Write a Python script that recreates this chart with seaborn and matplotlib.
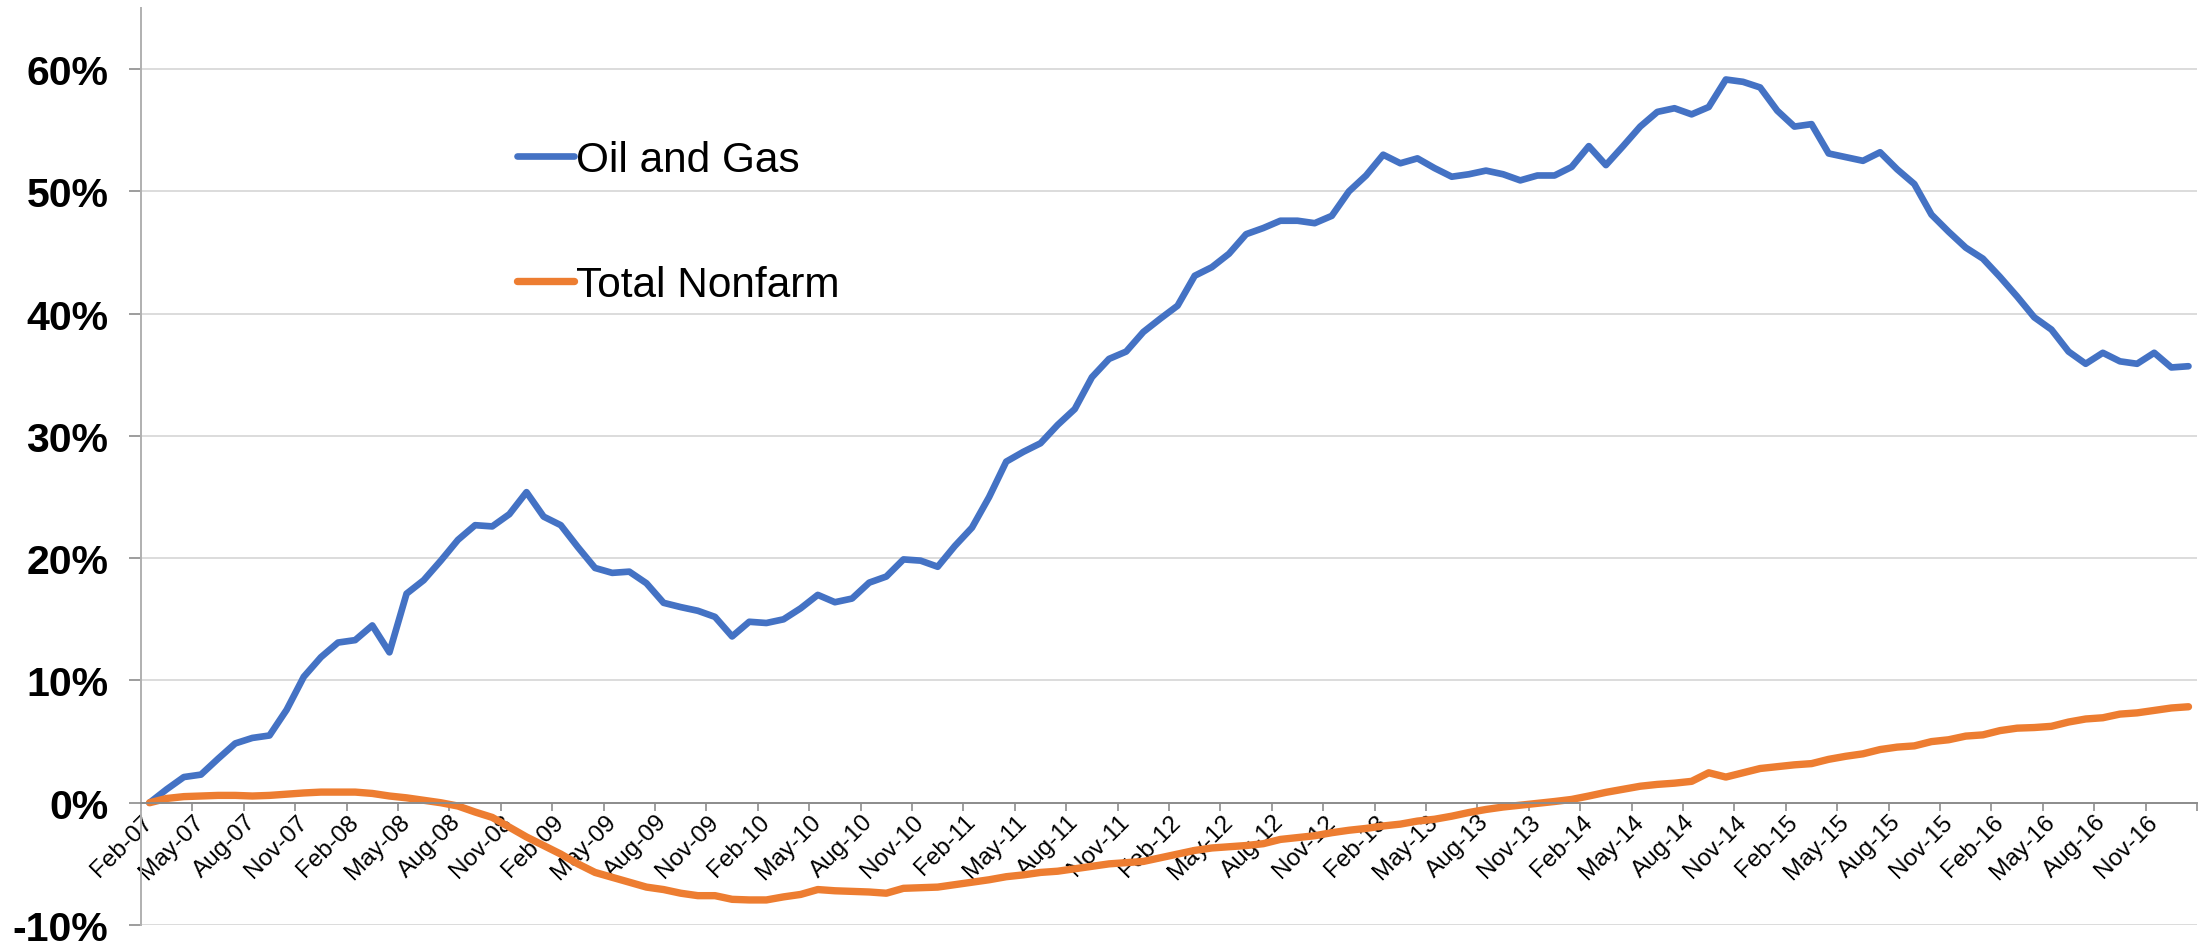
import numpy as np
import pandas as pd
import matplotlib
matplotlib.use("Agg")
import matplotlib.pyplot as plt
import seaborn as sns

# ---- data (percent change since Feb-07), monthly Feb-07 .. Jan-17 ----
months = pd.date_range("2007-02-01", periods=120, freq="MS").strftime("%b-%y").tolist()

oil_and_gas = [
    0.0, 1.1, 2.1, 2.3, 3.6, 4.85, 5.3, 5.5, 7.6, 10.3,
    11.9, 13.1, 13.3, 14.5, 12.3, 17.1, 18.2, 19.8, 21.5, 22.7,
    22.6, 23.6, 25.4, 23.4, 22.7, 20.9, 19.2, 18.8, 18.9, 17.95,
    16.35, 16.0, 15.7, 15.2, 13.6, 14.8, 14.7, 15.0, 15.9, 17.0,
    16.4, 16.7, 18.0, 18.5, 19.9, 19.8, 19.3, 21.0, 22.5, 25.0,
    27.9, 28.7, 29.4, 30.9, 32.2, 34.8, 36.3, 36.9, 38.5, 39.6,
    40.65, 43.1, 43.8, 44.9, 46.5, 47.0, 47.6, 47.6, 47.4, 48.0,
    50.0, 51.3, 53.0, 52.3, 52.7, 51.9, 51.2, 51.4, 51.7, 51.4,
    50.9, 51.3, 51.3, 52.0, 53.7, 52.15, 53.7, 55.3, 56.5, 56.8,
    56.3, 56.9, 59.15, 58.96, 58.5, 56.6, 55.3, 55.5, 53.1, 52.8,
    52.5, 53.2, 51.8, 50.6, 48.1, 46.7, 45.4, 44.5, 43.0, 41.4,
    39.7, 38.7, 36.9, 35.9, 36.8, 36.1, 35.9, 36.8, 35.6, 35.7,
]

total_nonfarm = [
    0.0, 0.35, 0.5, 0.55, 0.6, 0.6, 0.55, 0.6, 0.7, 0.8,
    0.87, 0.87, 0.87, 0.76, 0.55, 0.4, 0.2, 0.0, -0.27, -0.76,
    -1.2, -2.0, -2.8, -3.5, -4.2, -5.0, -5.7, -6.1, -6.5, -6.9,
    -7.1, -7.4, -7.6, -7.6, -7.9, -7.95, -7.95, -7.7, -7.5, -7.1,
    -7.2, -7.25, -7.3, -7.4, -7.0, -6.95, -6.9, -6.7, -6.5, -6.3,
    -6.05, -5.9, -5.7, -5.6, -5.4, -5.2, -5.0, -4.9, -4.8, -4.5,
    -4.2, -3.9, -3.7, -3.6, -3.5, -3.35, -3.0, -2.85, -2.7, -2.45,
    -2.25, -2.1, -1.9, -1.75, -1.5, -1.35, -1.1, -0.8, -0.55, -0.35,
    -0.2, -0.05, 0.1, 0.27, 0.55, 0.85, 1.1, 1.35, 1.5, 1.6,
    1.75, 2.45, 2.1, 2.45, 2.8, 2.95, 3.1, 3.2, 3.55, 3.8,
    4.0, 4.35, 4.55, 4.65, 5.0, 5.15, 5.45, 5.55, 5.9, 6.1,
    6.15, 6.25, 6.6, 6.85, 6.95, 7.25, 7.35, 7.55, 7.75, 7.85,
]

tick_labels = [
    "Feb-07", "May-07", "Aug-07", "Nov-07", "Feb-08", "May-08", "Aug-08", "Nov-08",
    "Feb-09", "May-09", "Aug-09", "Nov-09", "Feb-10", "May-10", "Aug-10", "Nov-10",
    "Feb-11", "May-11", "Aug-11", "Nov-11", "Feb-12", "May-12", "Aug-12", "Nov-12",
    "Feb-13", "May-13", "Aug-13", "Nov-13", "Feb-14", "May-14", "Aug-14", "Nov-14",
    "Feb-15", "May-15", "Aug-15", "Nov-15", "Feb-16", "May-16", "Aug-16", "Nov-16",
]
y_ticks = [-10, 0, 10, 20, 30, 40, 50, 60]

# ---- styling ----
sns.set_theme(style="white")
plt.rcParams["font.family"] = ["Liberation Sans", "DejaVu Sans"]
plt.rcParams["text.color"] = "black"
plt.rcParams["xtick.labelcolor"] = "black"
plt.rcParams["ytick.labelcolor"] = "black"

BLUE = "#4472C4"
ORANGE = "#ED7D31"
AXIS_GRAY = "#8c8c8c"
GRID_GRAY = "#d9d9d9"

fig = plt.figure(figsize=(22.03, 9.45), dpi=100)
ax = fig.add_axes([0.064, 0.0201, 0.9333, 0.9704])

df = pd.DataFrame({
    "pos": np.arange(len(months)) + 0.5,
    "month": months,
    "Oil and Gas": oil_and_gas,
    "Total Nonfarm": total_nonfarm,
})

sns.lineplot(data=df, x="pos", y="Oil and Gas", ax=ax, color=BLUE, linewidth=4.8,
             label="Oil and Gas", solid_joinstyle="round", solid_capstyle="round")
sns.lineplot(data=df, x="pos", y="Total Nonfarm", ax=ax, color=ORANGE, linewidth=5.3,
             label="Total Nonfarm", solid_joinstyle="round", solid_capstyle="round")

ax.set_xlim(0, len(months))
ax.set_ylim(-10, 65)
ax.set_xlabel("")
ax.set_ylabel("")

# y axis
ax.set_yticks(y_ticks)
ax.set_yticklabels([f"{v}%" for v in y_ticks], fontsize=29.5, fontweight="bold",
                   color="black")
ax.tick_params(axis="y", direction="out", length=8.5, width=1.2, color=AXIS_GRAY,
               pad=15, left=True)
ax.yaxis.grid(True, color=GRID_GRAY, linewidth=1.3)
ax.xaxis.grid(False)
ax.set_axisbelow(True)

# x axis at zero
ax.spines["bottom"].set_position(("data", 0))
ax.spines["bottom"].set_color(AXIS_GRAY)
ax.spines["bottom"].set_linewidth(1.4)
ax.spines["left"].set_color("#b0b0b0")
ax.spines["left"].set_linewidth(1.4)
ax.spines["top"].set_visible(False)
ax.spines["right"].set_visible(False)

major_pos = np.arange(0, len(months) + 1, 3)
ax.set_xticks(major_pos)
ax.set_xticklabels([""] * len(major_pos))
label_pos = np.arange(0, len(months), 3) + 0.5
ax.set_xticks(label_pos, minor=True)
ax.set_xticklabels(tick_labels, minor=True, rotation=45, ha="right",
                   va="center", rotation_mode="anchor", fontsize=17.5, color="black")
ax.tick_params(axis="x", which="major", direction="out", length=6, width=1.2,
               color=AXIS_GRAY, bottom=True)
ax.tick_params(axis="x", which="minor", length=0, pad=11, bottom=True)

# legend
leg = ax.legend(loc="upper left", bbox_to_anchor=(517 / 2203, 1 - 141 / 945),
                bbox_transform=fig.transFigure, frameon=False, fontsize=30.5,
                handlelength=1.35, handletextpad=0.05, labelspacing=2.0,
                borderpad=0, borderaxespad=0)
for t in leg.get_texts():
    t.set_color("black")

fig.savefig("out.png", dpi=100, facecolor="white")
